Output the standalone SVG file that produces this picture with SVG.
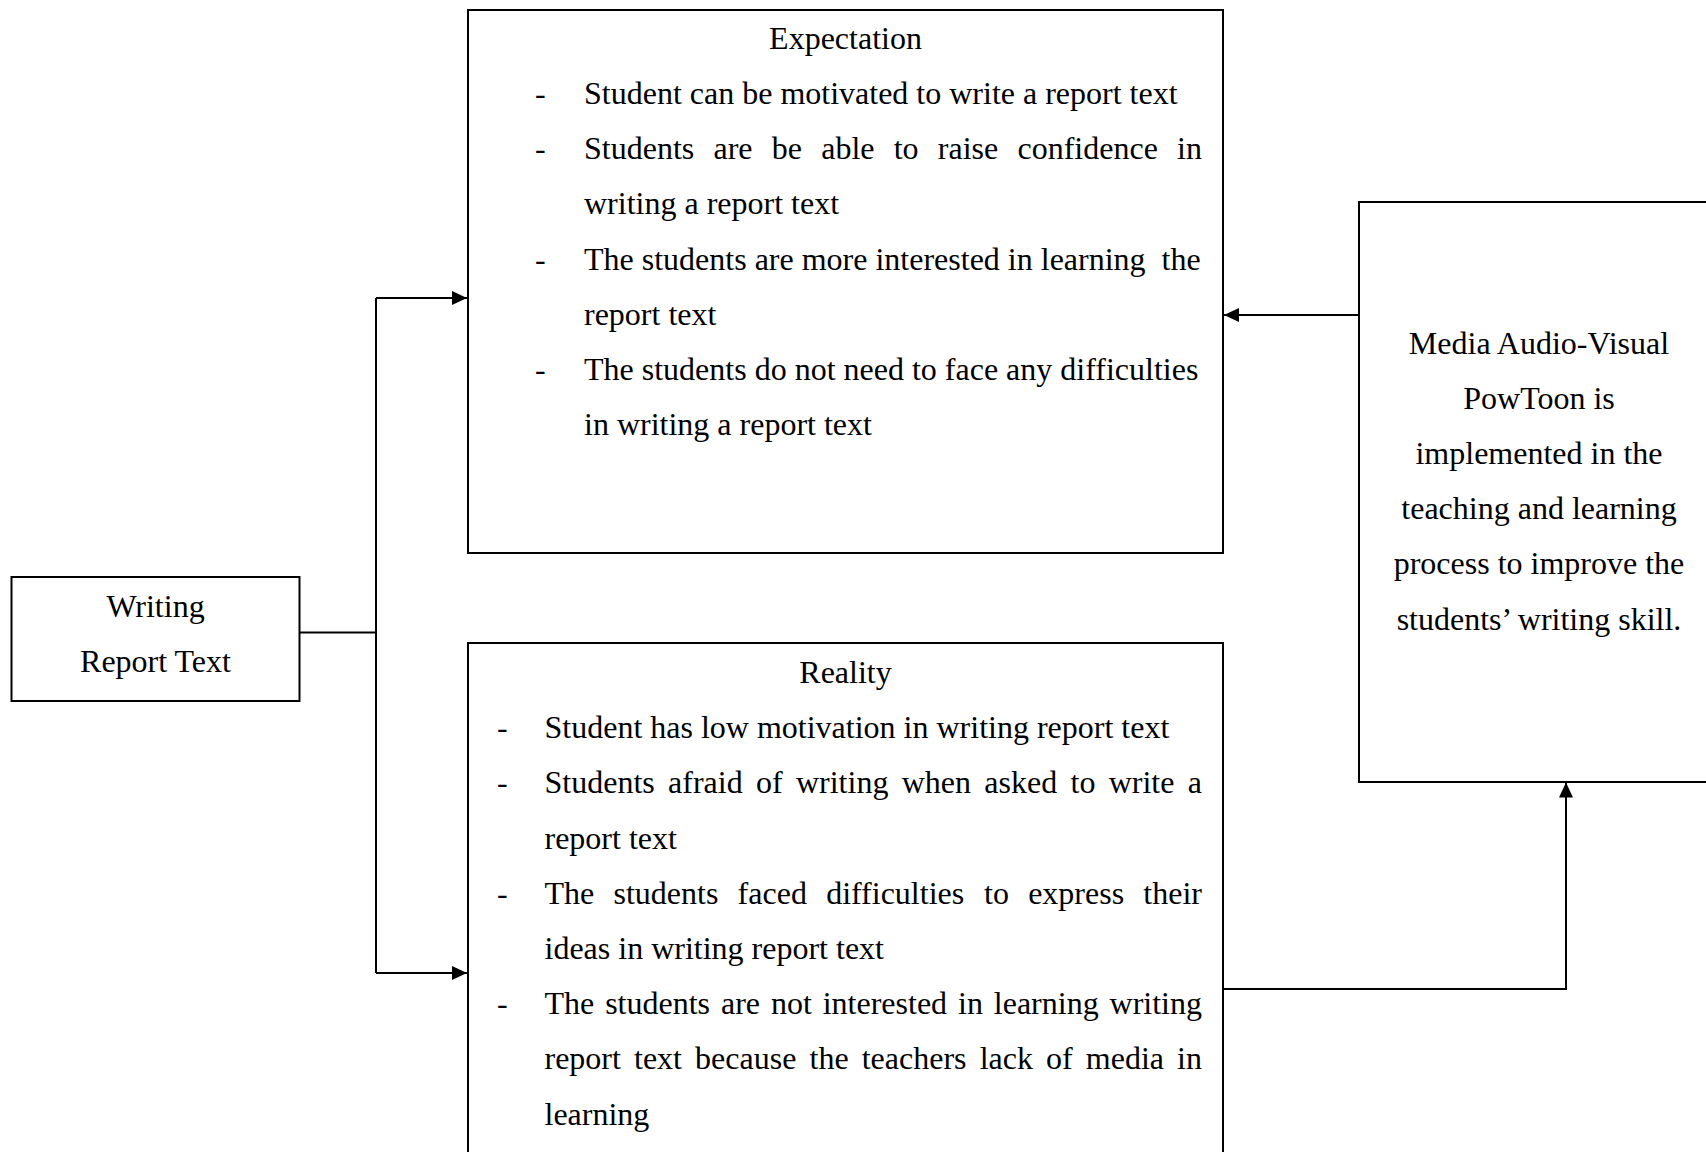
<svg xmlns="http://www.w3.org/2000/svg" width="1706" height="1152" viewBox="0 0 1706 1152">
<style>
text{font-family:"Liberation Serif","Times New Roman",serif;font-size:32px;fill:#000;font-variant-ligatures:none}
.c{text-anchor:middle}
.box{fill:#fff;stroke:#000;stroke-width:2}
.ln{fill:none;stroke:#000;stroke-width:2}
</style>
<defs>
<marker id="ah" markerUnits="userSpaceOnUse" markerWidth="16" markerHeight="16" viewBox="0 0 16 16" refX="15" refY="8" orient="auto">
<path d="M0,1 L15,8 L0,15 Z" fill="#000"/>
</marker>
</defs>
<rect width="1706" height="1152" fill="#fff"/>
<g id="connectors">
<path class="ln" d="M299.5,632.5 H376"/>
<path class="ln" d="M376,298 V973"/>
<path class="ln" d="M376,298 H467" marker-end="url(#ah)"/>
<path class="ln" d="M376,973 H467" marker-end="url(#ah)"/>
<path class="ln" d="M1359,315 H1224" marker-end="url(#ah)"/>
<path class="ln" d="M1222.5,989 H1566 V782.5" marker-end="url(#ah)"/>
</g>
<g id="expectation">
<rect class="box" x="468" y="10" width="755" height="543"/>
<text class="c" x="845.5" y="48.8">Expectation</text>
<text x="535" y="104">-</text>
<text x="584" y="104">Student can be motivated to write a report text</text>
<text x="535" y="159.2">-</text>
<text y="159.2"><tspan x="584">Students</tspan><tspan x="713.46">are</tspan><tspan x="771.75">be</tspan><tspan x="821.18">able</tspan><tspan x="893.71">to</tspan><tspan x="937.83">raise</tspan><tspan x="1017.47">confidence</tspan><tspan x="1177.07">in</tspan></text>
<text x="584" y="214.4">writing a report text</text>
<text x="535" y="269.6">-</text>
<text x="584" y="269.6">The students are more interested in learning&#160; the</text>
<text x="584" y="324.8">report text</text>
<text x="535" y="380">-</text>
<text x="584" y="380">The students do not need to face any difficulties</text>
<text x="584" y="435.2">in writing a report text</text>
</g>
<g id="reality">
<path class="box" d="M468,1153 V643 H1223 V1153"/>
<text class="c" x="845.5" y="683">Reality</text>
<text x="497" y="738.2">-</text>
<text x="544.5" y="738.2">Student has low motivation in writing report text</text>
<text x="497" y="793.4">-</text>
<text y="793.4"><tspan x="544.5">Students</tspan><tspan x="668.05">afraid</tspan><tspan x="755.98">of</tspan><tspan x="795.95">writing</tspan><tspan x="901.71">when</tspan><tspan x="984.33">asked</tspan><tspan x="1070.5">to</tspan><tspan x="1108.71">write</tspan><tspan x="1187.78">a</tspan></text>
<text x="544.5" y="848.6">report text</text>
<text x="497" y="903.8">-</text>
<text y="903.8"><tspan x="544.5">The</tspan><tspan x="613.49">students</tspan><tspan x="737.62">faced</tspan><tspan x="826.13">difficulties</tspan><tspan x="984.02">to</tspan><tspan x="1028.15">express</tspan><tspan x="1143.35">their</tspan></text>
<text x="544.5" y="959">ideas in writing report text</text>
<text x="497" y="1014.2">-</text>
<text y="1014.2"><tspan x="544.5">The</tspan><tspan x="605.15">students</tspan><tspan x="720.94">are</tspan><tspan x="770.9">not</tspan><tspan x="822.69">interested</tspan><tspan x="958">in</tspan><tspan x="993.79">learning</tspan><tspan x="1109.54">writing</tspan></text>
<text y="1069.4"><tspan x="544.5">report</tspan><tspan x="634.02">text</tspan><tspan x="695.12">because</tspan><tspan x="809.5">the</tspan><tspan x="861.7">teachers</tspan><tspan x="979.63">lack</tspan><tspan x="1046.04">of</tspan><tspan x="1085.8">media</tspan><tspan x="1177.11">in</tspan></text>
<text x="544.5" y="1124.6">learning</text>
</g>
<g id="writing">
<rect class="box" x="11.5" y="577" width="288" height="124"/>
<text class="c" x="155.5" y="616.5">Writing</text>
<text class="c" x="155.5" y="671.7">Report Text</text>
</g>
<g id="media">
<rect class="box" x="1359" y="202" width="400" height="580"/>
<text class="c" x="1539" y="353.5">Media Audio-Visual</text>
<text class="c" x="1539" y="408.7">PowToon is</text>
<text class="c" x="1539" y="463.9">implemented in the</text>
<text class="c" x="1539" y="519.1">teaching and learning</text>
<text class="c" x="1539" y="574.3">process to improve the</text>
<text class="c" x="1539" y="629.5">students’ writing skill.</text>
</g>
</svg>
